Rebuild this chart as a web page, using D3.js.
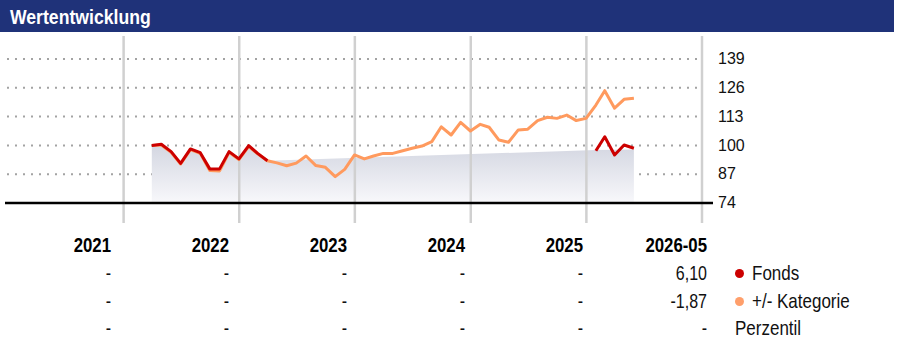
<!DOCTYPE html>
<html>
<head>
<meta charset="utf-8">
<script src="https://cdn.jsdelivr.net/npm/d3@7"></script>
<style>
  body { margin: 0; background: #fff; }
  svg { display: block; }
</style>
</head>
<body>
<svg id="chart" width="898" height="340"></svg>
<script>
// ---- data -------------------------------------------------------------
const firstMonth = new Date(2022, 2, 31);   // month-end observations
const lastMonth  = new Date(2026, 4, 31);

// Fund, indexed to 100 (gaps where no value is published)
const fundValues = [
  100.0, 100.5, 97.2, 91.9, 98.4, 96.7, 89.4, 89.4, 97.2, 93.9, 99.9, 96.4, 93.1,
  null, null, null, null, null, null, null, null, null, null, null,
  null, null, null, null, null, null, null, null, null, null, null,
  null, null, null, null, null, null, null, null, null, null, null,
  97.6, 103.9, 95.7, 100.2, 98.7
];

// Category average, indexed to 100
const categoryValues = [
  100.0, 100.2, 96.9, 91.6, 98.1, 96.4, 88.7, 88.5, 96.9, 93.6, 99.6, 96.2, 93.1,
  92.1, 90.8, 92.0, 95.2, 90.9, 90.1, 85.9, 89.2, 95.7, 93.9, 95.2,
  96.4, 96.4, 97.6, 98.7, 99.7, 101.7, 108.4, 104.7, 110.4, 106.5, 109.5,
  108.2, 102.4, 101.4, 107.0, 107.3, 111.2, 112.7, 112.2, 113.7, 111.2, 112.2,
  118.2, 124.7, 116.8, 120.8, 121.3
];

// Upper edge of the shaded band
const bandValues = [
  100.0, 100.5, 97.2, 91.9, 98.4, 96.7, 89.4, 89.4, 97.2, 93.9, 99.9, 96.4, 93.1,
  null, null, null, null, null, null, null, null, null, null, null,
  null, null, null, null, null, null, null, null, null, null, null,
  null, null, null, null, null, null, null, null, null, null, null,
  97.9, null, null, null, 98.1
];

const yTicks = [74, 87, 100, 113, 126, 139];

const columnLabels  = ["2021", "2022", "2023", "2024", "2025", "2026-05"];
const fondsRow      = ["-", "-", "-", "-", "-", "6,10"];
const kategorieRow  = ["-", "-", "-", "-", "-", "-1,87"];
const perzentilRow  = ["-", "-", "-", "-", "-", "-"];

const legendItems = [
  { label: "Fonds", color: "#cc0000" },
  { label: "+/- Kategorie", color: "#ff9f6b" },
  { label: "Perzentil", color: null }
];

// ---- setup -------------------------------------------------------------
const months = d3.timeMonth.range(d3.timeMonth.floor(firstMonth), d3.timeMonth.offset(d3.timeMonth.floor(lastMonth), 1))
  .map(d => d3.timeDay.offset(d3.timeMonth.offset(d, 1), -1));

const fund     = months.map((d, i) => ({ date: d, value: fundValues[i] }));
const category = months.map((d, i) => ({ date: d, value: categoryValues[i] }));
const band     = months.map((d, i) => ({ date: d, value: bandValues[i] })).filter(d => d.value != null);

const svg = d3.select("#chart");
const sans = "'Liberation Sans', Arial, Helvetica, sans-serif";

// Places a horizontally compressed text label with its anchor at (px, py)
function condensed(parent, px, py, str, opts = {}) {
  return parent.append("text")
    .attr("transform", `translate(${px},${py}) scale(${opts.squeeze || 0.8},1)`)
    .attr("font-family", sans)
    .attr("font-size", opts.size || 20)
    .attr("font-weight", opts.weight || "normal")
    .attr("text-anchor", opts.anchor || "start")
    .attr("fill", opts.fill || "#111")
    .text(str);
}

const x = d3.scaleTime()
  .domain([new Date(2021, 0, 1), new Date(2027, 0, 1)])
  .range([8, 702]);
const y = d3.scaleLinear().domain([74, 139]).range([203, 59]);

// ---- header ------------------------------------------------------------
svg.append("rect")
  .attr("x", 0).attr("y", 0).attr("width", 894).attr("height", 32)
  .attr("fill", "#1f3279");
condensed(svg, 10, 24, "Wertentwicklung", { size: 21, weight: "bold", fill: "#fff", squeeze: 0.84 });

// ---- gradient for the band ---------------------------------------------
const defs = svg.append("defs");
const grad = defs.append("linearGradient")
  .attr("id", "bandFill").attr("x1", 0).attr("y1", 0).attr("x2", 0).attr("y2", 1);
grad.append("stop").attr("offset", "0%").attr("stop-color", "#d3d6e1");
grad.append("stop").attr("offset", "100%").attr("stop-color", "#f8f8fb");

// ---- grid --------------------------------------------------------------
const g = svg.append("g");

// horizontal dotted lines
g.selectAll("line.hgrid")
  .data(yTicks.filter(t => t !== 74))
  .join("line")
  .attr("class", "hgrid")
  .attr("x1", 7).attr("x2", 698)
  .attr("y1", d => y(d)).attr("y2", d => y(d))
  .attr("stroke", "#a3a3a3")
  .attr("stroke-width", 2)
  .attr("stroke-dasharray", "2,6");

// shaded band
g.append("path")
  .datum(band)
  .attr("fill", "url(#bandFill)")
  .attr("d", d3.area()
    .x(d => x(d.date))
    .y0(y(74))
    .y1(d => y(d.value)));

// vertical year lines
const yearLines = d3.timeYear.range(new Date(2022, 0, 1), new Date(2027, 0, 2));
g.selectAll("line.vgrid")
  .data(yearLines)
  .join("line")
  .attr("class", "vgrid")
  .attr("x1", d => x(d)).attr("x2", d => x(d))
  .attr("y1", 36).attr("y2", 223)
  .attr("stroke", "#d0d0d0")
  .attr("stroke-width", 2.5);

// base line
g.append("line")
  .attr("x1", 5).attr("x2", 713)
  .attr("y1", y(74)).attr("y2", y(74))
  .attr("stroke", "#000")
  .attr("stroke-width", 2.5);

// y tick labels
g.selectAll("text.ytick")
  .data(yTicks)
  .join("text")
  .attr("class", "ytick")
  .attr("x", 718)
  .attr("y", d => y(d) + 1)
  .attr("dominant-baseline", "middle")
  .attr("font-family", sans)
  .attr("font-size", 16)
  .attr("fill", "#111")
  .text(d => d);

// ---- lines -------------------------------------------------------------
const line = d3.line()
  .defined(d => d.value != null)
  .x(d => x(d.date))
  .y(d => y(d.value));

g.append("path")
  .datum(category)
  .attr("fill", "none")
  .attr("stroke", "#ff9a5e")
  .attr("stroke-width", 3)
  .attr("stroke-linejoin", "round")
  .attr("d", line);

g.append("path")
  .datum(fund)
  .attr("fill", "none")
  .attr("stroke", "#cc0000")
  .attr("stroke-width", 3)
  .attr("stroke-linejoin", "round")
  .attr("d", line);

// ---- table -------------------------------------------------------------
const colX = i => (i < 5 ? 111 + 118 * i : 707);
const t = svg.append("g");

columnLabels.forEach((label, i) =>
  condensed(t, colX(i), 252, label, { size: 21, weight: "bold", anchor: "end", fill: "#000" }));

const rows = [fondsRow, kategorieRow, perzentilRow];
const rowY = [280, 308, 335];
rows.forEach((row, r) =>
  row.forEach((val, i) => condensed(t, colX(i), rowY[r], val, { size: 20, anchor: "end" })));

// legend
const lg = svg.append("g");
legendItems.forEach((item, r) => {
  if (item.color) {
    lg.append("circle")
      .attr("cx", 739.5).attr("cy", rowY[r] - 6.5)
      .attr("r", 4.5)
      .attr("fill", item.color);
    condensed(lg, 752, rowY[r], item.label, { size: 20, squeeze: 0.85 });
  } else {
    condensed(lg, 735, rowY[r], item.label, { size: 20, squeeze: 0.85 });
  }
});
</script>
</body>
</html>
